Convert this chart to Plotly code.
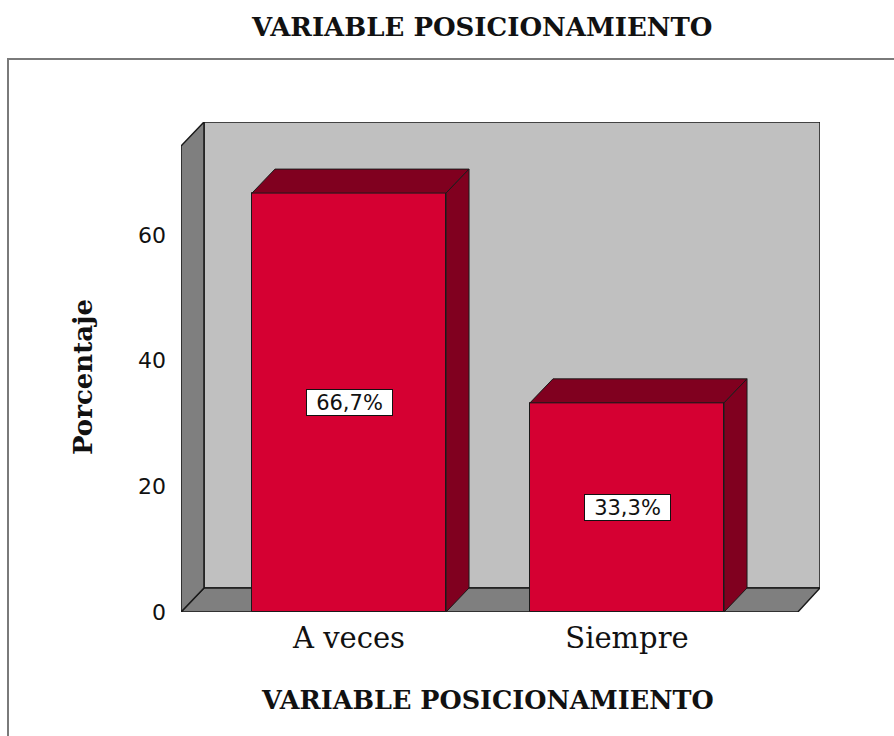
import plotly.graph_objects as go

# Data
categories = ["A veces", "Siempre"]
percentages = [66.7, 33.3]
y_ticks = [0, 20, 40, 60]
title_text = "VARIABLE POSICIONAMIENTO"
y_title = "Porcentaje"

# Styling constants for the pseudo-3D box
X_MIN, X_MAX = -0.6043, 1.6942
WALL_TOP = 74.2          # front height of the left wall
DX, DY = 0.0827, 3.82    # depth offset (x units, y units)
BAR_W = 0.698
FLOOR_RIGHT = 1.6145

FRONT = "#D50032"
DARK = "#80001F"
WALL = "#C0C0C0"
FLOOR = "#7F7F7F"
EDGE = "#1a1a1a"

fig = go.Figure()

shapes = []
# back wall
shapes.append(dict(type="rect", xref="x", yref="y", x0=X_MIN + DX, x1=X_MAX,
                   y0=DY, y1=WALL_TOP + DY, fillcolor=WALL,
                   line=dict(color=EDGE, width=1.5), layer="below"))
# floor
shapes.append(dict(type="path", xref="x", yref="y",
                   path=f"M {X_MIN},0 L {FLOOR_RIGHT},0 L {X_MAX},{DY} L {X_MIN + DX},{DY} Z",
                   fillcolor=FLOOR, line=dict(color=EDGE, width=1.5), layer="below"))
# left wall
shapes.append(dict(type="path", xref="x", yref="y",
                   path=f"M {X_MIN},0 L {X_MIN},{WALL_TOP} L {X_MIN + DX},{WALL_TOP + DY} L {X_MIN + DX},{DY} Z",
                   fillcolor=FLOOR, line=dict(color=EDGE, width=1.5), layer="below"))

xs = list(range(len(categories)))

# front faces of the bars
fig.add_trace(go.Bar(x=xs, y=percentages, width=BAR_W,
                     marker=dict(color=FRONT, line=dict(color=EDGE, width=1)),
                     hoverinfo="skip", showlegend=False))

# top and side faces
for x, v in zip(xs, percentages):
    l, r = x - BAR_W / 2, x + BAR_W / 2
    fig.add_trace(go.Scatter(x=[l, r, r + DX, l + DX, l], y=[v, v, v + DY, v + DY, v],
                             mode="lines", fill="toself", fillcolor=DARK,
                             line=dict(color=EDGE, width=1), hoverinfo="skip", showlegend=False))
    fig.add_trace(go.Scatter(x=[r, r + DX, r + DX, r, r], y=[0, DY, v + DY, v, 0],
                             mode="lines", fill="toself", fillcolor=DARK,
                             line=dict(color=EDGE, width=1), hoverinfo="skip", showlegend=False))

annotations = []
for x, v in zip(xs, percentages):
    annotations.append(dict(x=x, y=v / 2, xref="x", yref="y",
                            text=f"{v:.1f}%".replace(".", ","), showarrow=False,
                            font=dict(family="DejaVu Sans", size=21, color="#111"),
                            width=79, height=19,
                            bgcolor="white", bordercolor="#111", borderwidth=1, borderpad=3))

def px_x(X):
    return (X - 181) / 639

def px_y(Y):
    return (612 - Y) / 490

annotations.append(dict(x=px_x(482), y=px_y(27), xref="paper", yref="paper",
                        xanchor="center", yanchor="middle",
                        text=f"<b>{title_text}</b>", showarrow=False,
                        font=dict(family="DejaVu Serif", size=26, color="#111")))
annotations.append(dict(x=px_x(487), y=px_y(700), xref="paper", yref="paper",
                        xanchor="center", yanchor="middle",
                        text=f"<b>{title_text}</b>", showarrow=False,
                        font=dict(family="DejaVu Serif", size=25.5, color="#111")))
annotations.append(dict(x=px_x(83), y=px_y(377), xref="paper", yref="paper",
                        xanchor="center", yanchor="middle",
                        text=f"<b>{y_title}</b>", showarrow=False, textangle=-90,
                        font=dict(family="DejaVu Serif", size=26, color="#111")))

# outer frame
shapes.append(dict(type="rect", xref="paper", yref="paper",
                   x0=px_x(8), x1=px_x(910), y0=px_y(750), y1=px_y(59),
                   line=dict(color="#7a7a7a", width=2), fillcolor="rgba(0,0,0,0)", layer="below"))

fig.update_layout(
    width=894, height=736,
    margin=dict(l=181, r=74, t=122, b=124),
    paper_bgcolor="white", plot_bgcolor="white",
    shapes=shapes, annotations=annotations,
    bargap=0,
    xaxis=dict(range=[X_MIN, X_MAX], tickvals=xs, ticktext=categories,
               showgrid=False, zeroline=False, showline=False, ticks="",
               ticklabelstandoff=6,
               tickfont=dict(family="DejaVu Serif", size=29, color="#111")),
    yaxis=dict(range=[0, WALL_TOP + DY], tickvals=y_ticks,
               showgrid=False, zeroline=False, showline=False, ticks="",
               ticklabelstandoff=14,
               tickfont=dict(family="DejaVu Sans", size=22, color="#111")),
)

fig.write_html("out.html")
